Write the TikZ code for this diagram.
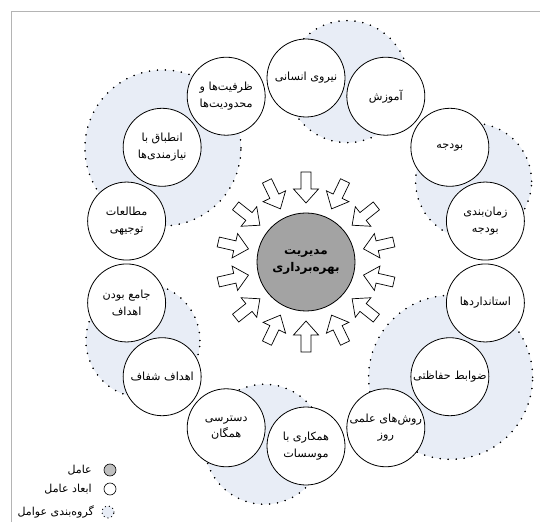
\documentclass[tikz,border=0pt]{standalone}
\usepackage{fontspec}
\newfontfamily\arabicfont[Script=Arabic]{DejaVu Sans}
\TeXXeTstate=1
\newcommand\pline[1]{\beginR #1\endR}
\definecolor{blobfill}{RGB}{232,237,246}
\definecolor{framegray}{RGB}{180,180,180}
\definecolor{corefill}{RGB}{163,163,163}
\tikzset{
  dimcircle/.style={circle, draw=black, line width=0.8pt, fill=white,
    minimum size=78pt, inner sep=0pt, align=center,
    font=\arabicfont\fontsize{11.2}{16.5}\selectfont},
  corecircle/.style={circle, draw=black, line width=0.8pt, fill=corefill,
    minimum size=98pt, inner sep=0pt, align=center,
    font=\arabicfont\bfseries\fontsize{12}{17}\selectfont},
  groupblob/.style={fill=blobfill, draw=black, line width=1.5pt,
    line cap=round, dash pattern=on 0pt off 8pt},
  blockarrow/.style={draw=black, fill=white, line width=0.7pt, line join=miter},
  legtext/.style={anchor=east, inner sep=0pt,
    font=\arabicfont\fontsize{11}{13}\selectfont},
  legmark/.style={circle, minimum size=12pt, inner sep=0pt},
}
\begin{document}
\begin{tikzpicture}[x=1pt, y=1pt]
\useasboundingbox (0,0) rectangle (540,522);

% frame
\draw[framegray, line width=1.6pt] (11.5,0) -- (11.5,510.5) -- (540,510.5);

\coordinate (c) at (306,260);

\begin{scope}[shift={(306,260)}]
  % grouping regions behind the ring
  \fill[groupblob] (77.14:185) circle (61);
  \fill[groupblob] (25.71:186) circle (58);
  \fill[groupblob] (-38.57:185) circle (82);
  \fill[groupblob] (-102.86:187) circle (60);
  \fill[groupblob] (-154.29:181) circle (57);
  \fill[groupblob] (141.43:183) circle (78);
  \draw[groupblob, fill=none] (77.14:185) circle (61);
  \draw[groupblob, fill=none] (25.71:186) circle (58);
  \draw[groupblob, fill=none] (-38.57:185) circle (82);
  \draw[groupblob, fill=none] (-102.86:187) circle (60);
  \draw[groupblob, fill=none] (-154.29:181) circle (57);
  \draw[groupblob, fill=none] (141.43:183) circle (78);

  % ring of dimensions
  \node[dimcircle] (d0)  at (90:184)      {\pline{نیروی انسانی}};
  \node[dimcircle] (d1)  at (64.29:184)   {\pline{آموزش}};
  \node[dimcircle] (d2)  at (38.57:184)   {\pline{بودجه}};
  \node[dimcircle] (d3)  at (12.86:184)   {\pline{زمان‌بندی}\\\pline{بودجه}};
  \node[dimcircle] (d4)  at (-12.86:184)  {\pline{استانداردها}};
  \node[dimcircle] (d5)  at (-38.57:184)  {\pline{ضوابط حفاظتی}};
  \node[dimcircle] (d6)  at (-64.29:184)  {\pline{روش‌های علمی}\\\pline{روز}};
  \node[dimcircle] (d7)  at (-90:184)     {\pline{همکاری با}\\\pline{موسسات}};
  \node[dimcircle] (d8)  at (-115.71:184) {\pline{دسترسی}\\\pline{همگان}};
  \node[dimcircle] (d9)  at (-141.43:184) {\pline{اهداف شفاف}};
  \node[dimcircle] (d10) at (-167.14:184) {\pline{جامع بودن}\\\pline{اهداف}};
  \node[dimcircle] (d11) at (167.14:184)  {\pline{مطالعات}\\\pline{توجیهی}};
  \node[dimcircle] (d12) at (141.43:184)  {\pline{انطباق با}\\\pline{نیازمندی‌ها}};
  \node[dimcircle] (d13) at (115.71:184)  {\pline{ظرفیت‌ها و}\\\pline{محدودیت‌ها}};

  % inward block arrows
  \foreach \k in {0,...,13} {
    \pgfmathsetmacro\ang{90+\k*360/14}
    \draw[blockarrow, rotate=\ang]
      (90,5) -- (73,5) -- (73,12.5) -- (59,0) -- (73,-12.5) -- (73,-5) -- (90,-5) -- cycle;
  }
\end{scope}

% central factor
\node[corecircle] (core) at (c) {\pline{مدیریت}\\\pline{بهره‌برداری}};

% legend
\node[legmark, draw=black, line width=0.6pt, fill=corefill!70!white] (lf) at (110,52) {};
\node[legtext] (lft) at (92,52) {\pline{عامل}};
\node[legmark, draw=black, line width=0.6pt, fill=white] (ld) at (110,33) {};
\node[legtext] (ldt) at (92,33) {\pline{ابعاد عامل}};
\fill[blobfill] (108,10) circle (6);
\draw[black, line width=1.3pt, line cap=round, dash pattern=on 0pt off 4pt] (108,10) circle (6);
\node[legtext] (lgt) at (94,10) {\pline{گروه‌بندی عوامل}};
\end{tikzpicture}
\end{document}
